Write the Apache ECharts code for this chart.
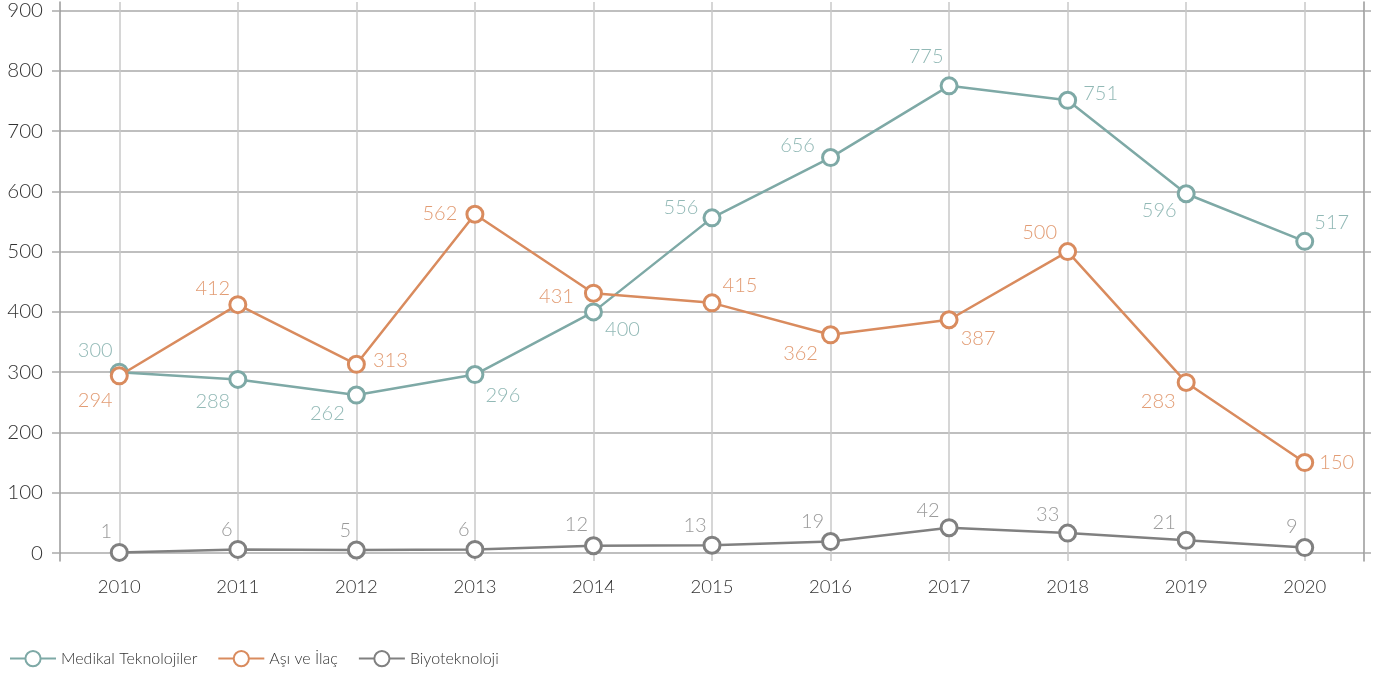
<!DOCTYPE html>
<html>
<head>
<meta charset="utf-8">
<script src="https://cdn.jsdelivr.net/npm/echarts@6/dist/echarts.min.js"></script>
<style>
  html, body { margin: 0; padding: 0; background: #ffffff; }
  #chart { width: 1391px; height: 679px; }
</style>
</head>
<body>
<div id="chart"></div>
<script>
// Yearly counts per field
const years = ['2010', '2011', '2012', '2013', '2014', '2015', '2016', '2017', '2018', '2019', '2020'];
const seriesNames = ['Medikal Teknolojiler', 'Aşı ve İlaç', 'Biyoteknoloji'];
const medikal = [300, 288, 262, 296, 400, 556, 656, 775, 751, 596, 517];
const asi = [294, 412, 313, 562, 431, 415, 362, 387, 500, 283, 150];
const biyo = [1, 6, 5, 6, 12, 13, 19, 42, 33, 21, 9];

// Value label placement around each point (pixel offsets from the marker centre)
const medikalLabelOffsets = [[-24, -22], [-25, 22], [-29, 18], [28, 21], [29, 18], [-31, -10], [-33, -12], [-23, -29], [33, -7], [-27, 17], [27, -19]];
const asiLabelOffsets = [[-24, 25], [-25, -16], [34, -4], [-35, -1], [-37, 3], [28, -17], [-30, 19], [29, 19], [-28, -19], [-28, 19], [32, 0]];
const biyoLabelOffsets = [[-13, -21], [-11, -20], [-11, -19], [-11, -20], [-17, -21], [-17, -20], [-18, -20], [-21, -17], [-20, -19], [-22, -18], [-13, -21]];

const FONT = 'Lato, "Open Sans", sans-serif';
const lineColors = ['#7ea9a6', '#d98b5e', '#808080'];
const labelColors = ['#92b9b6', '#e29c74', '#9a9a9a'];

function buildData(values, offsets) {
  return values.map((v, i) => ({ value: v, label: { offset: offsets[i] } }));
}

function makeSeries(idx, values, offsets) {
  return {
    name: seriesNames[idx],
    type: 'line',
    xAxisIndex: 0,
    yAxisIndex: 0,
    data: buildData(values, offsets),
    symbol: 'circle',
    symbolSize: 16,
    showAllSymbol: true,
    lineStyle: { color: lineColors[idx], width: 2.5 },
    itemStyle: { color: '#ffffff', borderColor: lineColors[idx], borderWidth: 3 },
    label: {
      show: true,
      position: 'inside',
      align: 'center',
      verticalAlign: 'middle',
      fontFamily: FONT,
      fontWeight: 300,
      fontSize: 20,
      color: labelColors[idx]
    },
    emphasis: { disabled: true },
    z: 3 + idx
  };
}

const chart = echarts.init(document.getElementById('chart'), null, { renderer: 'canvas' });

chart.setOption({
  animation: false,
  backgroundColor: '#ffffff',
  color: lineColors,
  textStyle: { fontFamily: FONT },
  grid: [
    { left: 60, right: 27, top: 9, bottom: 126 },
    { left: 60, right: 27, top: 2, bottom: 118 }
  ],
  legend: {
    left: 4,
    top: 645,
    itemWidth: 46,
    itemHeight: 19,
    itemGap: 20,
    data: seriesNames,
    textStyle: { fontFamily: FONT, fontWeight: 300, fontSize: 16, color: '#333333' }
  },
  xAxis: [
    {
      type: 'category',
      gridIndex: 0,
      data: years,
      boundaryGap: true,
      axisLine: { show: false },
      axisTick: { show: false },
      splitLine: { show: false },
      axisLabel: { fontFamily: FONT, fontWeight: 300, fontSize: 18.5, color: '#333333', margin: 25 }
    },
    {
      type: 'category',
      gridIndex: 1,
      data: years,
      boundaryGap: true,
      axisLine: { show: false },
      axisTick: { show: false },
      axisLabel: { show: false },
      splitLine: { show: true, alignWithLabel: true, lineStyle: { color: '#c9c9c9', width: 1.5 } }
    }
  ],
  yAxis: [
    {
      type: 'value',
      gridIndex: 0,
      min: 0,
      max: 900,
      interval: 100,
      axisLine: { show: false },
      axisTick: { show: true, length: 8, lineStyle: { color: '#aaaaaa', width: 1.5 } },
      splitLine: { show: true, lineStyle: { color: '#aaaaaa', width: 1.5 } },
      axisLabel: { fontFamily: FONT, fontWeight: 300, fontSize: 20.5, color: '#333333', margin: 17 }
    },
    {
      type: 'value',
      gridIndex: 0,
      position: 'right',
      min: 0,
      max: 900,
      interval: 100,
      axisLine: { show: false },
      axisTick: { show: true, length: 7, lineStyle: { color: '#aaaaaa', width: 1.5 } },
      splitLine: { show: false },
      axisLabel: { show: false }
    },
    {
      type: 'value',
      gridIndex: 1,
      position: 'left',
      min: 0,
      max: 1,
      axisLine: { show: true, lineStyle: { color: '#999999', width: 1.5 } },
      axisTick: { show: false },
      splitLine: { show: false },
      axisLabel: { show: false }
    },
    {
      type: 'value',
      gridIndex: 1,
      position: 'right',
      min: 0,
      max: 1,
      axisLine: { show: true, lineStyle: { color: '#999999', width: 1.5 } },
      axisTick: { show: false },
      splitLine: { show: false },
      axisLabel: { show: false }
    }
  ],
  series: [
    makeSeries(0, medikal, medikalLabelOffsets),
    makeSeries(1, asi, asiLabelOffsets),
    makeSeries(2, biyo, biyoLabelOffsets)
  ]
});
</script>
</body>
</html>
